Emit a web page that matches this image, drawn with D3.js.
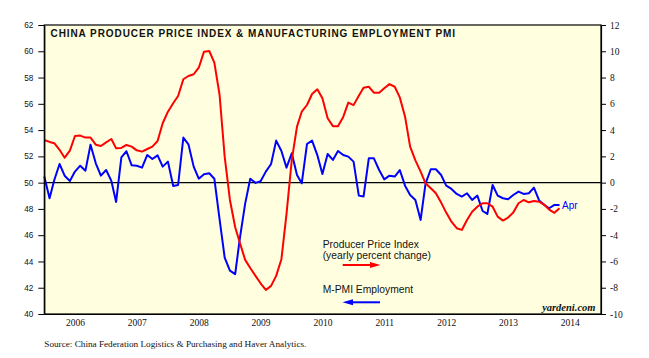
<!DOCTYPE html>
<html><head><meta charset="utf-8">
<script src="https://cdn.jsdelivr.net/npm/d3@7"></script>
<style>body{margin:0;background:#fff}</style>
</head><body>
<svg id="chart" width="649" height="358"></svg>
<script>
// ---- data (monthly, first value = Dec 2005, last = Apr 2014) ----
const startMonth = "2005-12";
const ppi = [3.25,3.1,3.0,2.5,1.9,2.44,3.55,3.58,3.43,3.43,2.89,2.79,3.07,3.32,2.61,2.64,2.87,2.74,2.46,2.36,
  2.56,2.74,3.17,4.52,5.4,6.04,6.6,7.87,8.12,8.25,8.75,9.97,10.02,9.13,6.67,1.98,-1.32,-3.4,-4.6,-5.88,
  -6.5,-7.1,-7.66,-8.17,-7.86,-7.1,-5.83,-2.4,1.7,4.26,5.4,5.91,6.75,7.1,6.42,4.9,4.3,4.3,5.0,6.09,
  5.9,6.62,7.23,7.3,6.85,6.85,7.18,7.5,7.3,6.49,5.02,2.74,1.7,0.84,-0.05,-0.43,-0.81,-1.52,-2.28,-2.97,
  -3.47,-3.6,-2.84,-2.21,-1.83,-1.57,-1.57,-1.83,-2.59,-2.89,-2.66,-2.28,-1.57,-1.32,-1.5,-1.4,-1.45,-1.7,-2.05,-2.3,-1.95];
const pmiEmployment = [50.46,48.81,50.2,51.42,50.53,50.13,50.84,51.29,50.91,52.89,51.47,50.53,50.96,50.13,48.53,51.93,52.39,51.32,51.29,51.14,
  52.11,51.8,52.08,51.22,51.6,49.75,49.82,53.43,52.92,51.22,50.3,50.64,50.71,50.3,47.2,44.3,43.3,43.03,45.8,48.4,
  50.3,49.98,50.1,50.84,51.42,53.2,52.41,51.14,52.23,50.58,49.95,52.94,53.2,52.1,50.66,52.18,51.73,52.41,52.1,51.98,
  51.6,49.01,48.94,51.85,51.85,50.96,50.25,50.53,50.46,50.96,49.77,49.06,48.68,47.16,49.92,51.02,51.02,50.58,49.77,49.52,
  49.14,48.94,49.19,48.68,49.01,47.84,47.62,49.82,49.01,48.81,48.73,49.06,49.32,49.14,49.19,49.62,48.63,48.3,48.05,48.3,48.3];
const leftMajorTicks = [40,42,44,46,48,50,52,54,56,58,60,62];
const rightMajorTicks = [-10,-8,-6,-4,-2,0,2,4,6,8,10,12];
const years = [2006,2007,2008,2009,2010,2011,2012,2013,2014];
const lastLabel = "Apr";

const svg = d3.select("#chart");
const X0 = 44.3, X1 = 601, Y0 = 25, Y1 = 314;
const start = d3.timeParse("%Y-%m")(startMonth);
const dates = ppi.map((d, i) => d3.timeMonth.offset(start, i + 1));
const x = d3.scaleTime().domain([new Date(2006,0,1), new Date(2015,0,1)]).range([X0, X1]);
const yL = d3.scaleLinear().domain([40, 62]).range([Y1, Y0]);
const yR = d3.scaleLinear().domain([-10, 12]).range([Y1, Y0]);

svg.append("rect").attr("width", 649).attr("height", 358).attr("fill", "#fff");
svg.append("rect").attr("x", X0).attr("y", Y0).attr("width", X1 - X0).attr("height", Y1 - Y0).attr("fill", "#FFFFE0");

// zero line
svg.append("line").attr("x1", X0).attr("x2", X1).attr("y1", yL(50)).attr("y2", yL(50))
  .attr("stroke", "#000").attr("stroke-width", 1.2);

const lineL = d3.line().x((d, i) => x(dates[i])).y(d => yL(d));
const lineR = d3.line().x((d, i) => x(dates[i])).y(d => yR(d));
svg.append("path").datum(pmiEmployment).attr("d", lineL).attr("fill", "none")
  .attr("stroke", "#0000FF").attr("stroke-width", 2).attr("stroke-linejoin", "round");
svg.append("path").datum(ppi).attr("d", lineR).attr("fill", "none")
  .attr("stroke", "#FF0000").attr("stroke-width", 2).attr("stroke-linejoin", "round");

// frame
svg.append("rect").attr("x", X0).attr("y", Y0).attr("width", X1 - X0).attr("height", Y1 - Y0)
  .attr("fill", "none").attr("stroke", "#000").attr("stroke-width", 1.2);

// left axis
const gL = svg.append("g").attr("transform", `translate(${X0},0)`);
gL.call(d3.axisLeft(yL).tickValues(d3.range(40, 63, 1)).tickSize(4).tickFormat("").tickSizeOuter(0));
gL.call(d3.axisLeft(yL).tickValues(leftMajorTicks).tickSize(6).tickPadding(5).tickFormat(d => String(d)).tickSizeOuter(0));
gL.selectAll("text").attr("font-family", "Liberation Sans, Arial, sans-serif").attr("font-size", 8.2).attr("fill", "#111");

// right axis
const gR = svg.append("g").attr("transform", `translate(${X1},0)`);
gR.call(d3.axisRight(yR).tickValues(d3.range(-10, 13, 1)).tickSize(5).tickFormat("").tickSizeOuter(0));
gR.call(d3.axisRight(yR).tickValues(rightMajorTicks).tickSize(5).tickPadding(4).tickFormat(d => String(d)).tickSizeOuter(0));
gR.selectAll("text").attr("font-family", "Liberation Serif, Times New Roman, serif").attr("font-size", 9.5).attr("fill", "#111");

// bottom axis
const gB = svg.append("g").attr("transform", `translate(0,${Y1})`);
gB.call(d3.axisBottom(x).tickValues(years.concat([2015]).map(y => new Date(y,0,1))).tickSize(7).tickFormat("").tickSizeOuter(0));
gB.call(d3.axisBottom(x).tickValues(years.map(y => new Date(y,6,1))).tickSize(0).tickPadding(5.3)
  .tickFormat(d => String(d.getFullYear())));
gB.selectAll("text").attr("font-family", "Liberation Serif, Times New Roman, serif").attr("font-size", 9.5).attr("fill", "#111");
svg.selectAll(".domain").attr("stroke", "#000").attr("stroke-width", 1.2);
svg.selectAll(".tick line").attr("stroke", "#000");

// title
svg.append("text").attr("x", 50.5).attr("y", 36.5)
  .attr("font-family", "Liberation Sans, Arial, sans-serif").attr("font-weight", "bold")
  .attr("font-size", 10).attr("letter-spacing", 0.92).attr("fill", "#111")
  .text("CHINA PRODUCER PRICE INDEX & MANUFACTURING EMPLOYMENT PMI");

// last label
const li = pmiEmployment.length - 1;
svg.append("text").attr("x", x(dates[li]) + 2.5).attr("y", yL(pmiEmployment[li]) + 3.6)
  .attr("font-family", "Liberation Sans, Arial, sans-serif").attr("font-size", 10)
  .attr("fill", "#0000FF").text(lastLabel);

// legend
const legFont = "Liberation Sans, Arial, sans-serif";
svg.append("text").attr("x", 322.7).attr("y", 248.3).attr("font-family", legFont).attr("font-size", 10.3).attr("fill", "#111").text("Producer Price Index");
svg.append("text").attr("x", 322.7).attr("y", 258.6).attr("font-family", legFont).attr("font-size", 10.3).attr("fill", "#111").text("(yearly percent change)");
svg.append("text").attr("x", 322.7).attr("y", 293.3).attr("font-family", legFont).attr("font-size", 10.3).attr("fill", "#111").text("M-PMI Employment");
svg.append("line").attr("x1", 342.7).attr("x2", 374).attr("y1", 265).attr("y2", 265).attr("stroke", "#FF0000").attr("stroke-width", 2);
svg.append("path").attr("d", "M370,262 L380.5,265 L370,268 Z").attr("fill", "#FF0000");
svg.append("line").attr("x1", 349).attr("x2", 380).attr("y1", 302.3).attr("y2", 302.3).attr("stroke", "#0000FF").attr("stroke-width", 2);
svg.append("path").attr("d", "M353,299.3 L342.5,302.3 L353,305.3 Z").attr("fill", "#0000FF");

// credits
svg.append("text").attr("x", 595.5).attr("y", 310.5).attr("text-anchor", "end")
  .attr("font-family", "Liberation Serif, Times New Roman, serif").attr("font-weight", "bold").attr("font-style", "italic")
  .attr("font-size", 10.5).attr("fill", "#111").text("yardeni.com");
svg.append("text").attr("x", 44.3).attr("y", 346.5)
  .attr("font-family", "Liberation Serif, Times New Roman, serif").attr("font-size", 9.2).attr("fill", "#111")
  .text("Source: China Federation Logistics & Purchasing and Haver Analytics.");
</script>
</body></html>
